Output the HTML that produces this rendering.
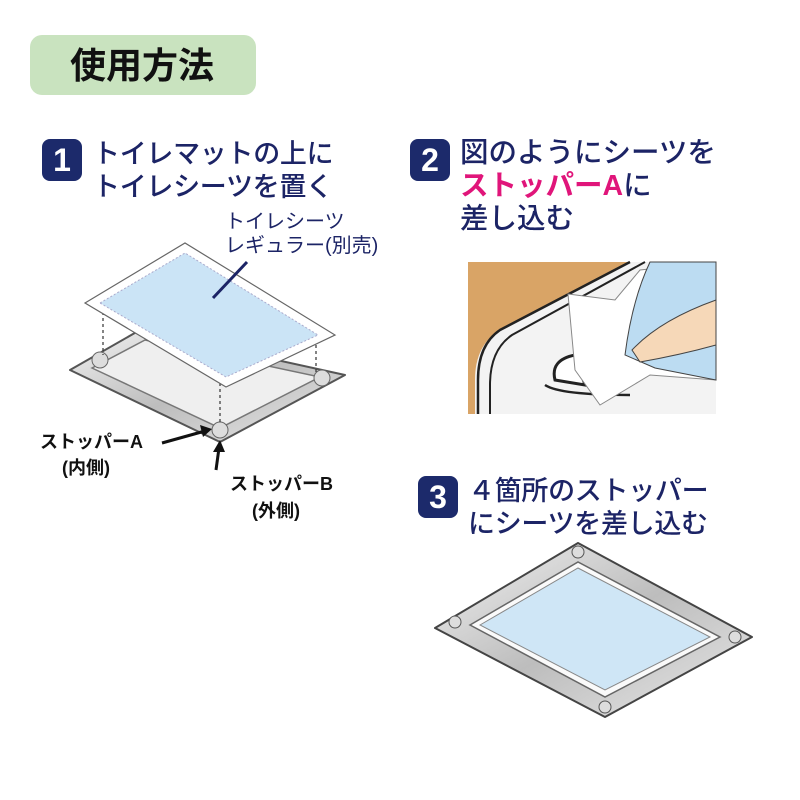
<!DOCTYPE html>
<html><head><meta charset="utf-8"><style>
body{margin:0;width:800px;height:800px;background:#fff;overflow:hidden;position:relative;font-family:"Liberation Sans","Noto Sans CJK JP",sans-serif}
.a{position:absolute;white-space:nowrap}
.t{color:#1c2466;font-size:29px;line-height:33px;font-weight:500}
.b{background:#1c2a6b;color:#fff;border-radius:8px;width:40px;height:42px;font-size:32px;font-weight:bold;text-align:center;line-height:42px}
.k{color:#111;font-weight:bold;font-size:18px}
</style></head><body>
<div class="a" style="left:30px;top:35px;width:226px;height:60px;background:#c9e3bf;border-radius:12px"></div>
<div class="a" style="left:70px;top:44px;font-size:36px;font-weight:bold;color:#111;line-height:44px">使用方法</div>

<div class="a b" style="left:42px;top:139px">1</div>
<div class="a t" style="left:93px;top:138px;font-size:27px;letter-spacing:-0.3px">トイレマットの上に<br>トイレシーツを置く</div>

<div class="a b" style="left:410px;top:139px">2</div>
<div class="a t" style="left:460px;top:137px;font-size:28.5px">図のようにシーツを<br><span style="color:#e0157a;font-weight:bold">ストッパーA</span>に<br>差し込む</div>

<div class="a b" style="left:418px;top:476px">3</div>
<div class="a t" style="left:468px;top:475px;font-size:27px;letter-spacing:-0.3px">４箇所のストッパー<br>にシーツを差し込む</div>

<div class="a" style="left:225px;top:210px;font-size:20px;line-height:24px;color:#1c2466">トイレシーツ<br>レギュラー(別売)</div>
<div class="a k" style="left:40px;top:428px">ストッパーA</div>
<div class="a k" style="left:62px;top:454px">(内側)</div>
<div class="a k" style="left:230px;top:470px">ストッパーB</div>
<div class="a k" style="left:252px;top:497px">(外側)</div>

<svg class="a" style="left:0;top:0" width="800" height="800">
<defs>
<linearGradient id="m" x1="0" y1="0" x2="1" y2="1"><stop offset="0" stop-color="#f2f2f2"/><stop offset=".5" stop-color="#bdbdbd"/><stop offset="1" stop-color="#e8e8e8"/></linearGradient>
</defs>
<path d="M70 370 L140 330 L345 375 L220 442 Z" fill="url(#m)" stroke="#555" stroke-width="2" stroke-linejoin="round"/>
<path d="M92 368 L145 340 L320 377 L220 428 Z" fill="#efefef" stroke="#777" stroke-width="1.5"/>
<circle cx="100" cy="360" r="8" fill="#ddd" stroke="#666"/>
<circle cx="322" cy="378" r="8" fill="#ddd" stroke="#666"/>
<circle cx="220" cy="430" r="8" fill="#ddd" stroke="#666"/>
<g stroke="#333" stroke-dasharray="3,3" stroke-width="1.2">
<line x1="103" y1="312" x2="103" y2="355"/><line x1="316" y1="345" x2="316" y2="372"/><line x1="220" y1="383" x2="220" y2="424"/></g>
<path d="M85 303 L185 243 L335 335 L226 387 Z" fill="#fff" stroke="#666" stroke-width="1.2"/>
<path d="M100 303 L185 253 L318 335 L226 377 Z" fill="#cbe4f6" stroke="#aac" stroke-dasharray="2,2"/>
<line x1="247" y1="262" x2="213" y2="298" stroke="#1c2466" stroke-width="3"/>
<line x1="162" y1="443" x2="205" y2="431" stroke="#111" stroke-width="3"/>
<polygon points="212,429 200,425 203,437" fill="#111"/>
<line x1="216" y1="470" x2="219" y2="448" stroke="#111" stroke-width="3"/>
<polygon points="220,440 213,452 225,452" fill="#111"/>
<rect x="468" y="262" width="248" height="152" fill="#f3f3f3"/>
<path d="M468 262 L630 262 L500 330 Q475 345 475 380 L475 414 L468 414 Z" fill="#d9a466"/>
<path d="M630 262 L500 330 Q478 345 478 380 L478 414" fill="none" stroke="#222" stroke-width="2.5"/>
<path d="M645 262 L512 335 Q490 350 490 385 L490 414" fill="none" stroke="#222" stroke-width="2"/>
<path d="M555 380 Q550 360 575 355 L585 385 Z" fill="#fff" stroke="#222" stroke-width="3"/>
<path d="M545 385 Q560 395 630 395" fill="none" stroke="#222" stroke-width="2.5"/>
<path d="M568 294 L615 300 L640 270 L716 262 L716 380 L650 375 L600 405 L575 370 Z" fill="#fff" stroke="#888"/>
<path d="M650 262 L716 262 L716 380 L655 368 L625 355 Q632 300 650 262 Z" fill="#bcdcf2" stroke="#444"/>
<path d="M632 350 Q660 320 716 300 L716 345 Q680 355 640 362 Z" fill="#f6d8b8" stroke="#444"/>
<path d="M435 628 L578 543 L752 637 L605 717 Z" fill="url(#m)" stroke="#444" stroke-width="2" stroke-linejoin="round"/>
<path d="M470 625 L578 562 L720 637 L605 697 Z" fill="#fafafa" stroke="#666" stroke-width="1.5"/>
<path d="M480 625 L578 568 L710 637 L605 690 Z" fill="#cfe6f6" stroke="#888"/>
<circle cx="578" cy="552" r="6" fill="#ddd" stroke="#555"/>
<circle cx="455" cy="622" r="6" fill="#ddd" stroke="#555"/>
<circle cx="735" cy="637" r="6" fill="#ddd" stroke="#555"/>
<circle cx="605" cy="707" r="6" fill="#ddd" stroke="#555"/>
</svg>
</body></html>
